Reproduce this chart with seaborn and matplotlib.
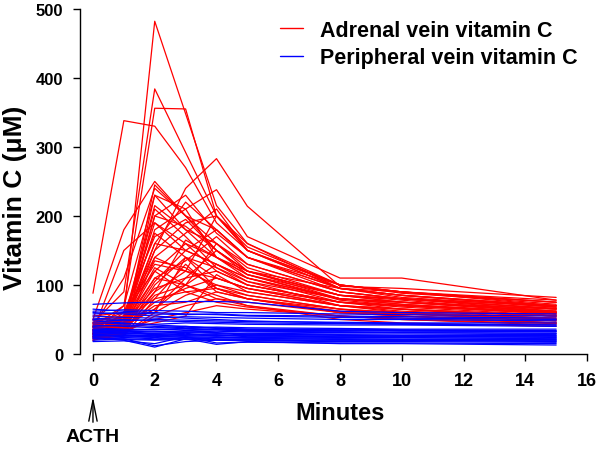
import pandas as pd
import seaborn as sns
import matplotlib.pyplot as plt

minutes = [0, 1, 2, 3, 4, 5, 8, 10, 15]

# adrenal vein vitamin C (uM), one list per subject
ad01 = [38, 55, 482, 348, 215, 160, 100, 88, 75]
ad02 = [45, 90, 384, 292, 200, 150, 95, 85, 70]
ad03 = [88, 338, 330, 270, 190, 150, 100, 90, 78]
ad04 = [30, 70, 356, 355, 200, 150, 100, 90, 75]
ad05 = [35, 50, 150, 240, 283, 214, 98, 95, 82]
ad06 = [50, 180, 250, 200, 150, 120, 95, 90, 75]
ad07 = [40, 110, 240, 200, 180, 140, 100, 90, 72]
ad08 = [40, 70, 230, 210, 238, 170, 110, 110, 78]
ad09 = [35, 50, 215, 180, 160, 130, 90, 80, 70]
ad10 = [30, 45, 200, 230, 175, 140, 95, 85, 68]
ad11 = [28, 40, 180, 210, 140, 110, 80, 75, 65]
ad12 = [45, 60, 170, 195, 150, 120, 85, 80, 62]
ad13 = [25, 35, 150, 190, 200, 155, 100, 90, 70]
ad14 = [40, 55, 140, 175, 210, 150, 95, 85, 68]
ad15 = [30, 45, 160, 150, 130, 110, 75, 70, 60]
ad16 = [35, 42, 120, 160, 140, 120, 80, 75, 62]
ad17 = [22, 38, 110, 135, 170, 130, 90, 80, 65]
ad18 = [30, 60, 130, 120, 110, 95, 70, 65, 55]
ad19 = [25, 30, 100, 140, 125, 100, 75, 70, 58]
ad20 = [40, 45, 95, 110, 150, 120, 85, 78, 60]
ad21 = [35, 40, 90, 120, 100, 85, 65, 60, 52]
ad22 = [20, 35, 85, 100, 130, 105, 70, 62, 55]
ad23 = [30, 38, 75, 95, 110, 95, 75, 65, 50]
ad24 = [45, 50, 80, 90, 95, 80, 60, 58, 48]
ad25 = [25, 30, 60, 85, 100, 90, 70, 60, 50]
ad26 = [35, 40, 70, 75, 90, 80, 65, 55, 45]
ad27 = [20, 30, 55, 70, 80, 75, 60, 55, 45]
ad28 = [30, 35, 50, 60, 70, 65, 55, 50, 42]
ad29 = [38, 42, 65, 100, 85, 70, 50, 45, 40]
ad30 = [55, 60, 120, 90, 75, 68, 55, 52, 45]
ad31 = [28, 36, 45, 55, 115, 90, 70, 65, 55]
ad32 = [42, 48, 210, 170, 125, 105, 80, 72, 60]
ad33 = [32, 150, 190, 160, 120, 100, 75, 70, 58]
ad34 = [26, 34, 230, 180, 140, 115, 85, 80, 66]
ad35 = [50, 55, 60, 140, 95, 80, 60, 55, 48]
ad36 = [36, 44, 110, 100, 80, 70, 55, 50, 44]
ad37 = [28, 32, 245, 200, 160, 120, 85, 75, 65]
ad38 = [33, 38, 160, 220, 180, 140, 90, 80, 66]
ad39 = [24, 28, 140, 120, 200, 160, 95, 85, 70]
ad40 = [42, 50, 190, 150, 130, 110, 80, 75, 62]
ad41 = [30, 35, 105, 150, 180, 140, 95, 82, 68]
ad42 = [38, 45, 125, 100, 160, 125, 85, 75, 60]
ad43 = [26, 30, 90, 165, 140, 115, 80, 72, 58]
ad44 = [48, 52, 175, 140, 110, 95, 70, 65, 55]
ad45 = [22, 26, 80, 130, 90, 80, 62, 58, 50]
ad46 = [34, 40, 65, 110, 120, 100, 75, 68, 56]
ad47 = [29, 33, 200, 185, 150, 115, 78, 70, 60]
ad48 = [44, 48, 135, 125, 95, 85, 65, 60, 52]
adrenal = [ad01, ad02, ad03, ad04, ad05, ad06, ad07, ad08, ad09, ad10, ad11, ad12,
           ad13, ad14, ad15, ad16, ad17, ad18, ad19, ad20, ad21, ad22, ad23, ad24,
           ad25, ad26, ad27, ad28, ad29, ad30, ad31, ad32, ad33, ad34, ad35, ad36,
           ad37, ad38, ad39, ad40, ad41, ad42, ad43, ad44, ad45, ad46, ad47, ad48]

# peripheral vein vitamin C (uM)
pv01 = [72, 74, 75, 76, 76, 75, 62, 60, 58]
pv02 = [62, 64, 63, 62, 60, 60, 58, 57, 55]
pv03 = [58, 60, 58, 57, 58, 56, 55, 54, 52]
pv04 = [55, 53, 52, 54, 53, 52, 50, 50, 48]
pv05 = [50, 48, 50, 49, 48, 47, 46, 45, 45]
pv06 = [45, 44, 43, 45, 44, 43, 42, 42, 40]
pv07 = [40, 42, 40, 38, 39, 38, 37, 36, 36]
pv08 = [38, 36, 35, 36, 35, 34, 34, 33, 33]
pv09 = [35, 34, 33, 32, 33, 32, 31, 31, 30]
pv10 = [33, 32, 30, 31, 30, 30, 29, 29, 28]
pv11 = [30, 31, 29, 28, 29, 28, 28, 27, 27]
pv12 = [28, 27, 27, 26, 27, 26, 25, 25, 25]
pv13 = [27, 25, 24, 25, 24, 24, 23, 23, 23]
pv14 = [25, 24, 22, 23, 22, 22, 22, 21, 21]
pv15 = [22, 21, 20, 21, 20, 20, 19, 19, 19]
pv16 = [20, 22, 12, 18, 20, 19, 18, 18, 17]
pv17 = [18, 19, 15, 25, 16, 17, 16, 16, 15]
pv18 = [24, 20, 10, 22, 14, 18, 15, 15, 13]
pv19 = [32, 30, 28, 30, 26, 27, 26, 26, 24]
pv20 = [36, 35, 36, 37, 36, 35, 33, 34, 32]
pv21 = [42, 40, 38, 40, 37, 36, 36, 35, 34]
pv22 = [29, 26, 25, 27, 28, 25, 24, 24, 22]
pv23 = [26, 28, 26, 24, 25, 23, 21, 20, 20]
pv24 = [48, 45, 42, 40, 38, 36, 35, 34, 33]
pv25 = [60, 58, 55, 52, 50, 48, 45, 44, 42]
pv26 = [34, 33, 32, 34, 35, 33, 32, 31, 30]
pv27 = [31, 29, 30, 32, 31, 29, 27, 26, 26]
pv28 = [23, 22, 21, 22, 21, 21, 20, 20, 18]
pv29 = [65, 62, 60, 58, 57, 55, 53, 52, 50]
pv30 = [52, 50, 48, 47, 46, 45, 44, 43, 42]
peripheral = [pv01, pv02, pv03, pv04, pv05, pv06, pv07, pv08, pv09, pv10,
              pv11, pv12, pv13, pv14, pv15, pv16, pv17, pv18, pv19, pv20,
              pv21, pv22, pv23, pv24, pv25, pv26, pv27, pv28, pv29, pv30]

rows = []
for name, group in [('Adrenal vein vitamin C', adrenal), ('Peripheral vein vitamin C', peripheral)]:
    for i, vals in enumerate(group):
        for t, v in zip(minutes, vals):
            rows.append({'minute': t, 'vitc': v, 'vein': name, 'subject': f'{name[:3]}{i}'})
df = pd.DataFrame(rows)

sns.set_style('ticks')
plt.rcParams['font.family'] = ['Liberation Sans', 'DejaVu Sans']
plt.rcParams['font.weight'] = 'bold'
plt.rcParams['text.color'] = 'black'
plt.rcParams['xtick.color'] = 'black'
plt.rcParams['ytick.color'] = 'black'
plt.rcParams['axes.labelcolor'] = 'black'

fig = plt.figure(figsize=(6, 4.52), dpi=100)
ax = fig.add_axes([80 / 600, 97 / 452, 512 / 600, 350 / 452])

sns.lineplot(data=df, x='minute', y='vitc', hue='vein', units='subject', estimator=None,
             palette={'Adrenal vein vitamin C': '#ff0000', 'Peripheral vein vitamin C': '#0000ff'},
             linewidth=0.9, ax=ax)

handles, labels = ax.get_legend_handles_labels()
ax.get_legend().remove()
leg = ax.legend(handles, labels, loc='upper left', bbox_to_anchor=(280 / 600, 431 / 452),
                bbox_transform=fig.transFigure, frameon=False, fontsize=15.5,
                handlelength=1.05, handletextpad=0.8, labelspacing=0.3, borderpad=0,
                borderaxespad=0)
for h in leg.get_lines():
    h.set_linewidth(1.0)
for t in leg.get_texts():
    t.set_fontweight('bold')

ax.set_xlim(-0.42, 16.16)
ax.set_ylim(0, 507)
ax.set_xticks(range(0, 17, 2))
ax.set_yticks(range(0, 501, 100))
sns.despine(ax=ax)
ax.spines['left'].set_bounds(0, 500)
ax.spines['bottom'].set_bounds(0, 16)
for s in ['left', 'bottom']:
    ax.spines[s].set_color('black')
    ax.spines[s].set_linewidth(1)
ax.tick_params(axis='both', direction='out', length=5, width=1, color='black',
               labelcolor='black')
ax.tick_params(axis='x', labelsize=13, pad=8)
ax.tick_params(axis='y', labelsize=12, pad=7)
for lab in ax.get_xticklabels() + ax.get_yticklabels():
    lab.set_fontweight('bold')

ax.set_xlabel('Minutes', fontsize=17, fontweight='bold')
ax.set_ylabel('Vitamin C (\u03bcM)', fontsize=19, fontweight='bold')
ax.xaxis.set_label_coords((340 - 80) / 512, (355 - 414) / 350)
ax.xaxis.label.set_va('center')
ax.yaxis.set_label_coords((15 - 80) / 512, (355 - 198) / 350)
ax.yaxis.label.set_va('center')

ax.annotate('', xy=(0, 452 - 395), xytext=(0, 452 - 426),
            xycoords=('data', 'figure pixels'), textcoords=('data', 'figure pixels'),
            arrowprops=dict(arrowstyle='->,head_length=1.5,head_width=0.3', color='black', lw=1),
            annotation_clip=False)
ax.annotate('ACTH', xy=(0, 452 - 438), xycoords=('data', 'figure pixels'),
            ha='center', va='center', fontsize=14, fontweight='bold', annotation_clip=False)

fig.savefig('out.png', dpi=100)
